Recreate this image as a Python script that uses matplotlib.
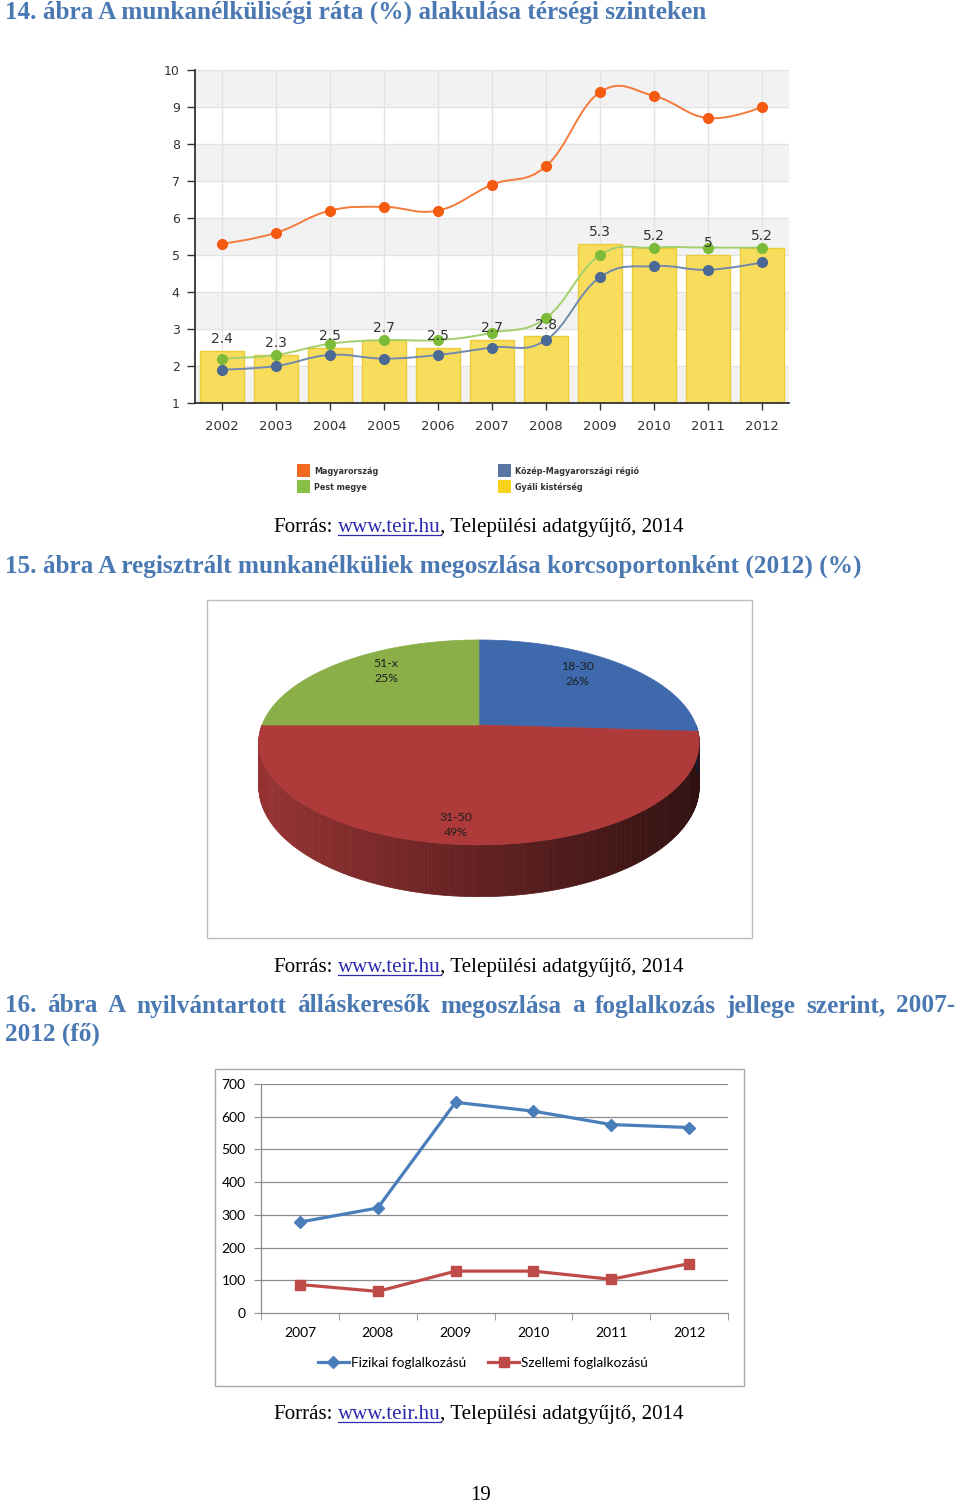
import numpy as np
import matplotlib
matplotlib.use('Agg')
import matplotlib.pyplot as plt
import matplotlib.colors as mcl
from matplotlib.path import Path
from matplotlib.patches import PathPatch, Rectangle, Polygon
from matplotlib.collections import PolyCollection
from matplotlib.lines import Line2D

W, H = 960, 1507

# 14. abra - munkanelkulisegi rata (%)
years_a = ['2002', '2003', '2004', '2005', '2006', '2007', '2008', '2009', '2010', '2011', '2012']
magyarorszag = [5.3, 5.6, 6.2, 6.3, 6.2, 6.9, 7.4, 9.4, 9.3, 8.7, 9.0]
pest_megye = [2.2, 2.3, 2.6, 2.7, 2.7, 2.9, 3.3, 5.0, 5.2, 5.2, 5.2]
kozep_mo = [1.9, 2.0, 2.3, 2.2, 2.3, 2.5, 2.7, 4.4, 4.7, 4.6, 4.8]
gyali = [2.4, 2.3, 2.5, 2.7, 2.5, 2.7, 2.8, 5.3, 5.2, 5.0, 5.2]

# 15. abra - korcsoportok (%)
pie_labels = ['18-30', '31-50', '51-x']
pie_values = [26, 49, 25]

# 16. abra - allaskeresok (fo)
years_c = ['2007', '2008', '2009', '2010', '2011', '2012']
fizikai = [278, 321, 644, 617, 576, 567]
szellemi = [87, 66, 128, 128, 103, 151]

TITLE_BLUE = '#4a78b2'
SERIF = 'Liberation Serif'
TITLE_FS = 18.2
SOURCE_FS = 15.1


def fx(px):
    return px / W


def fy(py):
    return 1 - py / H


def spline_path(xs, ys):
    # highcharts-like spline: handles at 0.4 of the segment, tangent = central difference
    n = len(xs)
    left, right = [None] * n, [None] * n
    for i in range(1, n - 1):
        lx = xs[i] - (xs[i] - xs[i - 1]) / 2.5
        rx = xs[i] + (xs[i + 1] - xs[i]) / 2.5
        ly = ys[i] - (ys[i] - ys[i - 1]) / 2.5
        ry = ys[i] + (ys[i + 1] - ys[i]) / 2.5
        corr = (ry - ly) * (rx - xs[i]) / (rx - lx) + ys[i] - ry
        left[i], right[i] = (lx, ly + corr), (rx, ry + corr)
    verts = [(xs[0], ys[0])]
    codes = [Path.MOVETO]
    for i in range(n - 1):
        c1 = right[i] if right[i] is not None else (xs[i], ys[i])
        c2 = left[i + 1] if left[i + 1] is not None else (xs[i + 1], ys[i + 1])
        verts += [c1, c2, (xs[i + 1], ys[i + 1])]
        codes += [Path.CURVE4] * 3
    return Path(verts, codes)


fig = plt.figure(figsize=(W / 100, H / 100), dpi=100)
fig.patch.set_facecolor('white')
renderer = fig.canvas.get_renderer()


def text_width(s, **kw):
    t = fig.text(0, 0, s, **kw)
    w = t.get_window_extent(renderer).width
    t.remove()
    return w


def source_line(y):
    kw = dict(family=SERIF, fontsize=SOURCE_FS, va='baseline')
    space = text_width('x x', **kw) - text_width('xx', **kw)
    x = 273
    fig.text(fx(x), fy(y), 'Forrás:', color='black', **kw)
    x += text_width('Forrás:', **kw) + space
    fig.text(fx(x), fy(y), 'www.teir.hu', color='#2b2bb0', **kw)
    wl = text_width('www.teir.hu', **kw)
    fig.add_artist(Line2D([fx(x), fx(x + wl)], [fy(y + 2.5), fy(y + 2.5)], color='#2b2bb0', lw=0.9))
    x += wl
    fig.text(fx(x), fy(y), ', Települési adatgyűjtő, 2014', color='black', **kw)


# ---------------- 14. abra ----------------
fig.text(fx(5), fy(12), '14. ábra A munkanélküliségi ráta (%) alakulása térségi szinteken',
         family=SERIF, weight='bold', fontsize=TITLE_FS, color=TITLE_BLUE, va='center')

ax1 = fig.add_axes([fx(195), fy(403), 594 / W, 333 / H])
x = np.arange(len(years_a))
ax1.set_xlim(-0.5, len(years_a) - 0.5)
ax1.set_ylim(1, 10)
for lo in range(1, 10, 2):
    ax1.axhspan(lo, lo + 1, color='#f2f2f2', zorder=0, lw=0)
for v in range(2, 11):
    ax1.axhline(v, color='#e3e3e3', lw=1, zorder=1)
for xi in x:
    ax1.axvline(xi, color='#e3e3e3', lw=1, zorder=1)

ax1.bar(x, gyali, width=0.8, color='#f8dd5c', edgecolor='#ecca38', lw=1, zorder=2)
for xi, v in zip(x, gyali):
    ax1.text(xi, v + 0.13, f'{v:g}', ha='center', va='bottom', fontsize=10, color='#333333', zorder=6)

series = [(magyarorszag, '#f47a3c', '#f45a10'),
          (pest_megye, '#a3cf6e', '#7cbb38'),
          (kozep_mo, '#7189ae', '#4b6995')]
for vals, lc, mc in series:
    ax1.add_patch(PathPatch(spline_path(list(x), vals), fill=False, edgecolor=lc, lw=1.4, zorder=3))
    ax1.plot(x, vals, 'o', ms=7, color=mc, zorder=4)

for s in ['top', 'right']:
    ax1.spines[s].set_visible(False)
ax1.spines['left'].set_color('#333333')
ax1.spines['left'].set_linewidth(1.3)
ax1.spines['bottom'].set_color('#333333')
ax1.spines['bottom'].set_linewidth(1.3)
ax1.set_yticks(range(1, 11))
ax1.set_xticks(x)
ax1.set_xticklabels(years_a)
ax1.tick_params(axis='y', length=6, width=1, color='#333333', labelsize=9, labelcolor='#333333', pad=5)
ax1.tick_params(axis='x', length=5, width=1, color='#333333', labelsize=9.5, labelcolor='#333333', pad=7)

legend_items = [(303, 471, '#f26a21', 'Magyarország'),
                (303, 487, '#86bf45', 'Pest megye'),
                (504, 471, '#5876a3', 'Közép-Magyarországi régió'),
                (504, 487, '#f9d21c', 'Gyáli kistérség')]
for lx, ly, col, lab in legend_items:
    fig.add_artist(Rectangle((fx(lx - 6), fy(ly + 6)), 13 / W, 13 / H, transform=fig.transFigure,
                             facecolor=col, edgecolor='none'))
    fig.text(fx(lx + 11), fy(ly), lab, fontsize=5.8, weight='bold', color='#333333', va='center')

source_line(532)

# ---------------- 15. abra ----------------
fig.text(fx(5), fy(566), '15. ábra A regisztrált munkanélküliek megoszlása korcsoportonként (2012) (%)',
         family=SERIF, weight='bold', fontsize=TITLE_FS, color=TITLE_BLUE, va='center')

fig.add_artist(Rectangle((fx(207), fy(938)), 545 / W, 338 / H, transform=fig.transFigure,
                         fill=False, edgecolor='#bcbcbc', lw=1))
axp = fig.add_axes([fx(207), fy(938), 545 / W, 338 / H])
axp.set_xlim(0, 545)
axp.set_ylim(338, 0)
axp.axis('off')

pie_colors = ['#3f69ad', '#ae3a3a', '#8aae48']
cx, cy, R, Ry, k, depth = 272, 125, 217, 99.5, 0.17, 43


def proj(theta_deg, r=1.0, h=0.0):
    t = np.radians(theta_deg)
    X = r * np.cos(t)
    D = r * np.sin(t)
    s = 1 / (1 + k * D)
    return cx + R * X * s, cy - Ry * D * s + h * s


fracs = np.array(pie_values, dtype=float) / np.sum(pie_values)
bounds = np.concatenate([[0], np.cumsum(fracs)])


def slice_of(theta_deg):
    t = ((90 - theta_deg) % 360) / 360
    return min(np.searchsorted(bounds, t, side='right') - 1, len(fracs) - 1)


# side wall
th = np.linspace(180, 360, 241)
xmin, xmax = cx - R, cx + R
quads, qcols = [], []
for a0, a1 in zip(th[:-1], th[1:]):
    p0, p1 = proj(a0), proj(a1)
    b0, b1 = proj(a0, h=depth), proj(a1, h=depth)
    quads.append([p0, p1, b1, b0])
    base = np.array(mcl.to_rgb(pie_colors[slice_of((a0 + a1) / 2)]))
    f = 0.86 - 0.58 * ((p0[0] + p1[0]) / 2 - xmin) / (xmax - xmin)
    qcols.append(np.clip(base * f, 0, 1))
axp.add_collection(PolyCollection(quads, facecolors=qcols, edgecolors=qcols, lw=0.5, zorder=1))

# top face
start = 90.0
for v, col in zip(fracs, pie_colors):
    end = start - v * 360
    arc = [proj(a) for a in np.linspace(start, end, 120)]
    axp.add_patch(Polygon([(cx, cy)] + arc, closed=True, facecolor=col, edgecolor=col, lw=0.5, zorder=2))
    start = end

pie_label_pos = [(370, 74), (249, 225), (179, 71)]
for (lx, ly), lab, v in zip(pie_label_pos, pie_labels, pie_values):
    axp.text(lx, ly, f'{lab}\n{v}%', ha='center', va='center', fontsize=8.8, family='Lato',
             color='#1e1e1e', linespacing=1.35, zorder=5)

source_line(972)

# ---------------- 16. abra ----------------
words = '16. ábra A nyilvántartott álláskeresők megoszlása a foglalkozás jellege szerint, 2007-'.split()
tkw = dict(family=SERIF, weight='bold', fontsize=TITLE_FS, color=TITLE_BLUE, va='center')
widths = [text_width(w_, **tkw) for w_ in words]
gap = (955 - 5 - sum(widths)) / (len(words) - 1)
xpos = 5
for w_, wd in zip(words, widths):
    fig.text(fx(xpos), fy(1006), w_, **tkw)
    xpos += wd + gap
fig.text(fx(5), fy(1034), '2012 (fő)', **tkw)

fig.add_artist(Rectangle((fx(215), fy(1386)), 529 / W, 317 / H, transform=fig.transFigure,
                         fill=False, edgecolor='#a6a6a6', lw=1))
ax3 = fig.add_axes([fx(261), fy(1313), 467 / W, 229 / H])
xc = np.arange(len(years_c))
ax3.set_xlim(-0.5, len(years_c) - 0.5)
ax3.set_ylim(0, 700)
ax3.set_yticks(range(0, 701, 100))
for v in range(100, 701, 100):
    ax3.axhline(v, color='#8c8c8c', lw=0.9, zorder=1)
l1, = ax3.plot(xc, fizikai, color='#4a7ebb', lw=2.3, marker='D', ms=6, zorder=3,
               label='Fizikai foglalkozású')
l2, = ax3.plot(xc, szellemi, color='#be4b48', lw=2.3, marker='s', ms=7, zorder=3,
               label='Szellemi foglalkozású')
for s in ['top', 'right']:
    ax3.spines[s].set_visible(False)
for s in ['left', 'bottom']:
    ax3.spines[s].set_color('#8c8c8c')
    ax3.spines[s].set_linewidth(0.9)
ax3.set_xticks(xc)
ax3.set_xticklabels(years_c)
ax3.set_xticks(np.arange(-0.5, len(years_c)), minor=True)
ax3.tick_params(axis='x', which='major', length=0, pad=10, labelsize=10)
ax3.tick_params(axis='x', which='minor', length=5, color='#8c8c8c')
ax3.tick_params(axis='y', length=5, color='#8c8c8c', labelsize=10, pad=6)
for lab in ax3.get_xticklabels() + ax3.get_yticklabels():
    lab.set_family('Lato')
fig.legend(handles=[l1, l2], loc='center', bbox_to_anchor=(fx(483), fy(1363)), ncol=2, frameon=False,
           prop={'family': 'Lato', 'size': 9.8}, handlelength=2.3, handletextpad=0.15, columnspacing=1.6)

source_line(1419)

fig.text(fx(481), fy(1496), '19', family=SERIF, fontsize=15, ha='center', va='center', color='black')

fig.savefig('out.png', dpi=100, facecolor='white')
